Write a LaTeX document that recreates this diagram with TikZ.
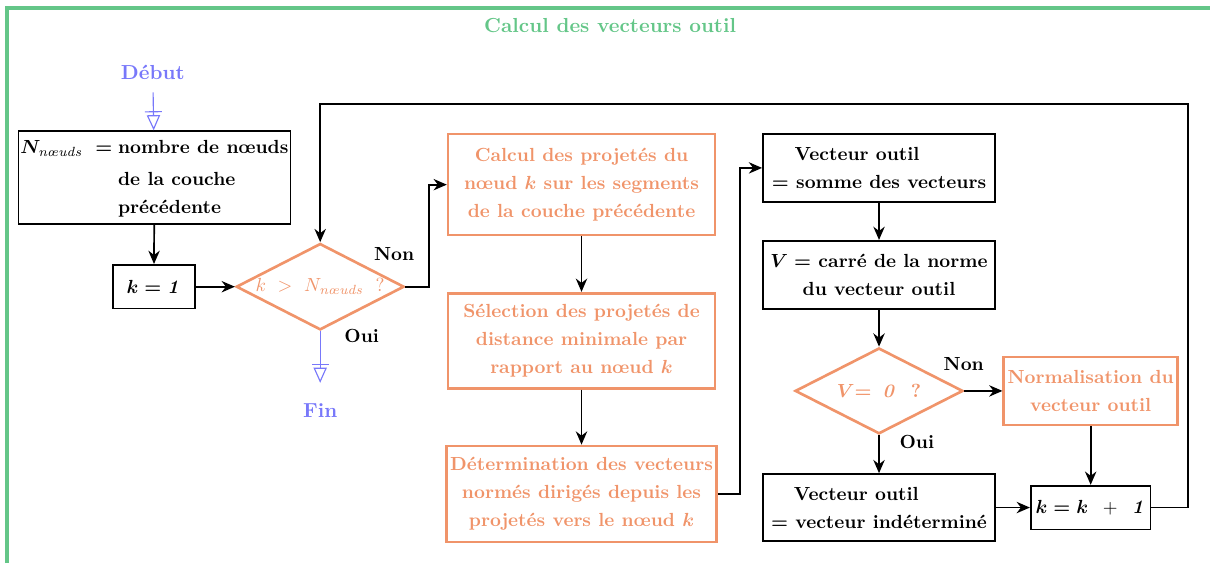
\documentclass[tikz,border=0pt]{standalone}
\usepackage{amsmath}
\usepackage{amssymb}
\usepackage{tikz}
\usetikzlibrary{arrows.meta, shapes.geometric}

\definecolor{cadre}{RGB}{100,198,136}
\definecolor{saumon}{RGB}{240,148,106}
\definecolor{bleudeb}{RGB}{120,120,250}

\begin{document}
\begin{tikzpicture}[
    font=\fontsize{10}{14.7}\selectfont\bfseries\boldmath,
    grand/.style={font=\fontsize{10.7}{13}\selectfont\bfseries},
    boite/.style={draw, line width=0.9pt, align=center, minimum width=4.3cm, minimum height=1.26cm, inner sep=2pt},
    etape/.style={draw=saumon, line width=1.4pt, text=saumon, align=center, minimum width=4.94cm, minimum height=1.78cm, inner sep=2pt},
    test/.style={diamond, draw=saumon, line width=1.4pt, text=saumon, aspect=1.9, minimum width=3.11cm, minimum height=1.6cm, inner sep=0pt},
    fleche/.style={-{Stealth[length=7pt, width=6pt]}, line width=0.9pt},
    bord/.style={-{Bar[width=9pt, sep=1.5pt] Triangle[open, length=8pt, width=7pt]}, semithick, bleudeb}
]
    \useasboundingbox (0, 0) rectangle (22.41, -10.43);

    % Frame and title
    \draw[cadre, line width=1.8pt] (0.13, -10.43) |- (22.41, -0.15);
    \node[grand, text=cadre] (titre) at (11.30, -0.48) {Calcul des vecteurs outil};

    % Start
    \node[grand, text=bleudeb] (debut) at (2.83, -1.35) {Début};
    \node[boite, minimum width=4.98cm, minimum height=1.72cm, inner sep=1pt] (nbre) at (2.86, -3.29) {%
        \begin{tabular}{@{}l@{\hspace{7pt}}l@{\hspace{3pt}}l@{}}
        $N_{\textit{\mdseries nœuds}}$ & $=$ & nombre de nœuds\\[2pt]
        & & de la couche\\
        & & précédente
        \end{tabular}};
    \draw[bord, shorten <=3pt] (debut) -- (nbre);

    % k = 1 and first test
    \node[boite, minimum width=1.52cm, minimum height=0.81cm] (kun) at (2.85, -5.31) {$k = \mathit{1}$};
    \node[test, font=\fontsize{10}{14.7}\selectfont] (test1) at (5.93, -5.31) {$k\ >\ N_{\textit{nœuds}}\ \ ?$};
    \draw[fleche] (nbre) -- (kun);
    \draw[fleche] (kun) -- (test1);
    \node at (7.30, -4.70) {Non};
    \node at (6.70, -6.22) {Oui};

    % End
    \node[grand, text=bleudeb] (fin) at (5.93, -7.61) {Fin};
    \coordinate (finpt) at (5.93, -7.09);
    \draw[bord] (test1) -- (finpt);

    % Projections
    \node[etape, minimum height=1.87cm] (calcul) at (10.77, -3.42) {Calcul des projetés du\\nœud $k$ sur les segments\\de la couche précédente};
    \node[etape, minimum height=1.76cm] (select) at (10.77, -6.31) {Sélection des projetés de\\distance minimale par\\rapport au nœud $k$};
    \node[etape] (determ) at (10.77, -9.15) {Détermination des vecteurs\\normés dirigés depuis les\\projetés vers le nœud $k$};
    \draw[fleche] (test1.east) -- ++(0.44, 0) |- (calcul.west);
    \draw[fleche] (calcul) -- (select);
    \draw[fleche] (select) -- (determ);

    % Tool vector
    \node[boite, align=left] (somme) at (16.28, -3.11) {\hspace*{12pt}Vecteur outil\\$=$ somme des vecteurs};
    \node[boite] (carre) at (16.28, -5.09) {$V =$ carré de la norme\\du vecteur outil};
    \node[test, minimum height=1.59cm] (test2) at (16.28, -7.24) {$V{=}\ \,\mathit{0}\ \ ?$};
    \draw[fleche] (determ.east) -- ++(0.41, 0) |- (somme.west);
    \draw[fleche] (somme) -- (carre);
    \draw[fleche] (carre) -- (test2);
    \node at (17.85, -6.74) {Non};
    \node at (16.98, -8.19) {Oui};

    % Normalisation or undefined vector
    \node[etape, minimum width=3.2cm, minimum height=1.26cm] (normal) at (20.20, -7.24) {Normalisation du\\vecteur outil};
    \node[boite, align=left, minimum height=1.24cm] (indet) at (16.28, -9.40) {\hspace*{12pt}Vecteur outil\\$=$ vecteur indéterminé};
    \draw[fleche] (test2) -- (normal);
    \draw[fleche] (test2) -- (indet);

    % k = k + 1 and loop back
    \node[boite, minimum width=2.22cm, minimum height=0.81cm] (kplus) at (20.20, -9.40) {$k = k$\ \ {\mdseries +}\ \ $\mathit{1}$};
    \coordinate (retour) at (22.0, -1.93);
    \draw[fleche] (indet) -- (kplus);
    \draw[fleche] (normal) -- (kplus);
    \draw[fleche] (kplus.east) -| (retour) -| (test1.north);
\end{tikzpicture}
\end{document}
